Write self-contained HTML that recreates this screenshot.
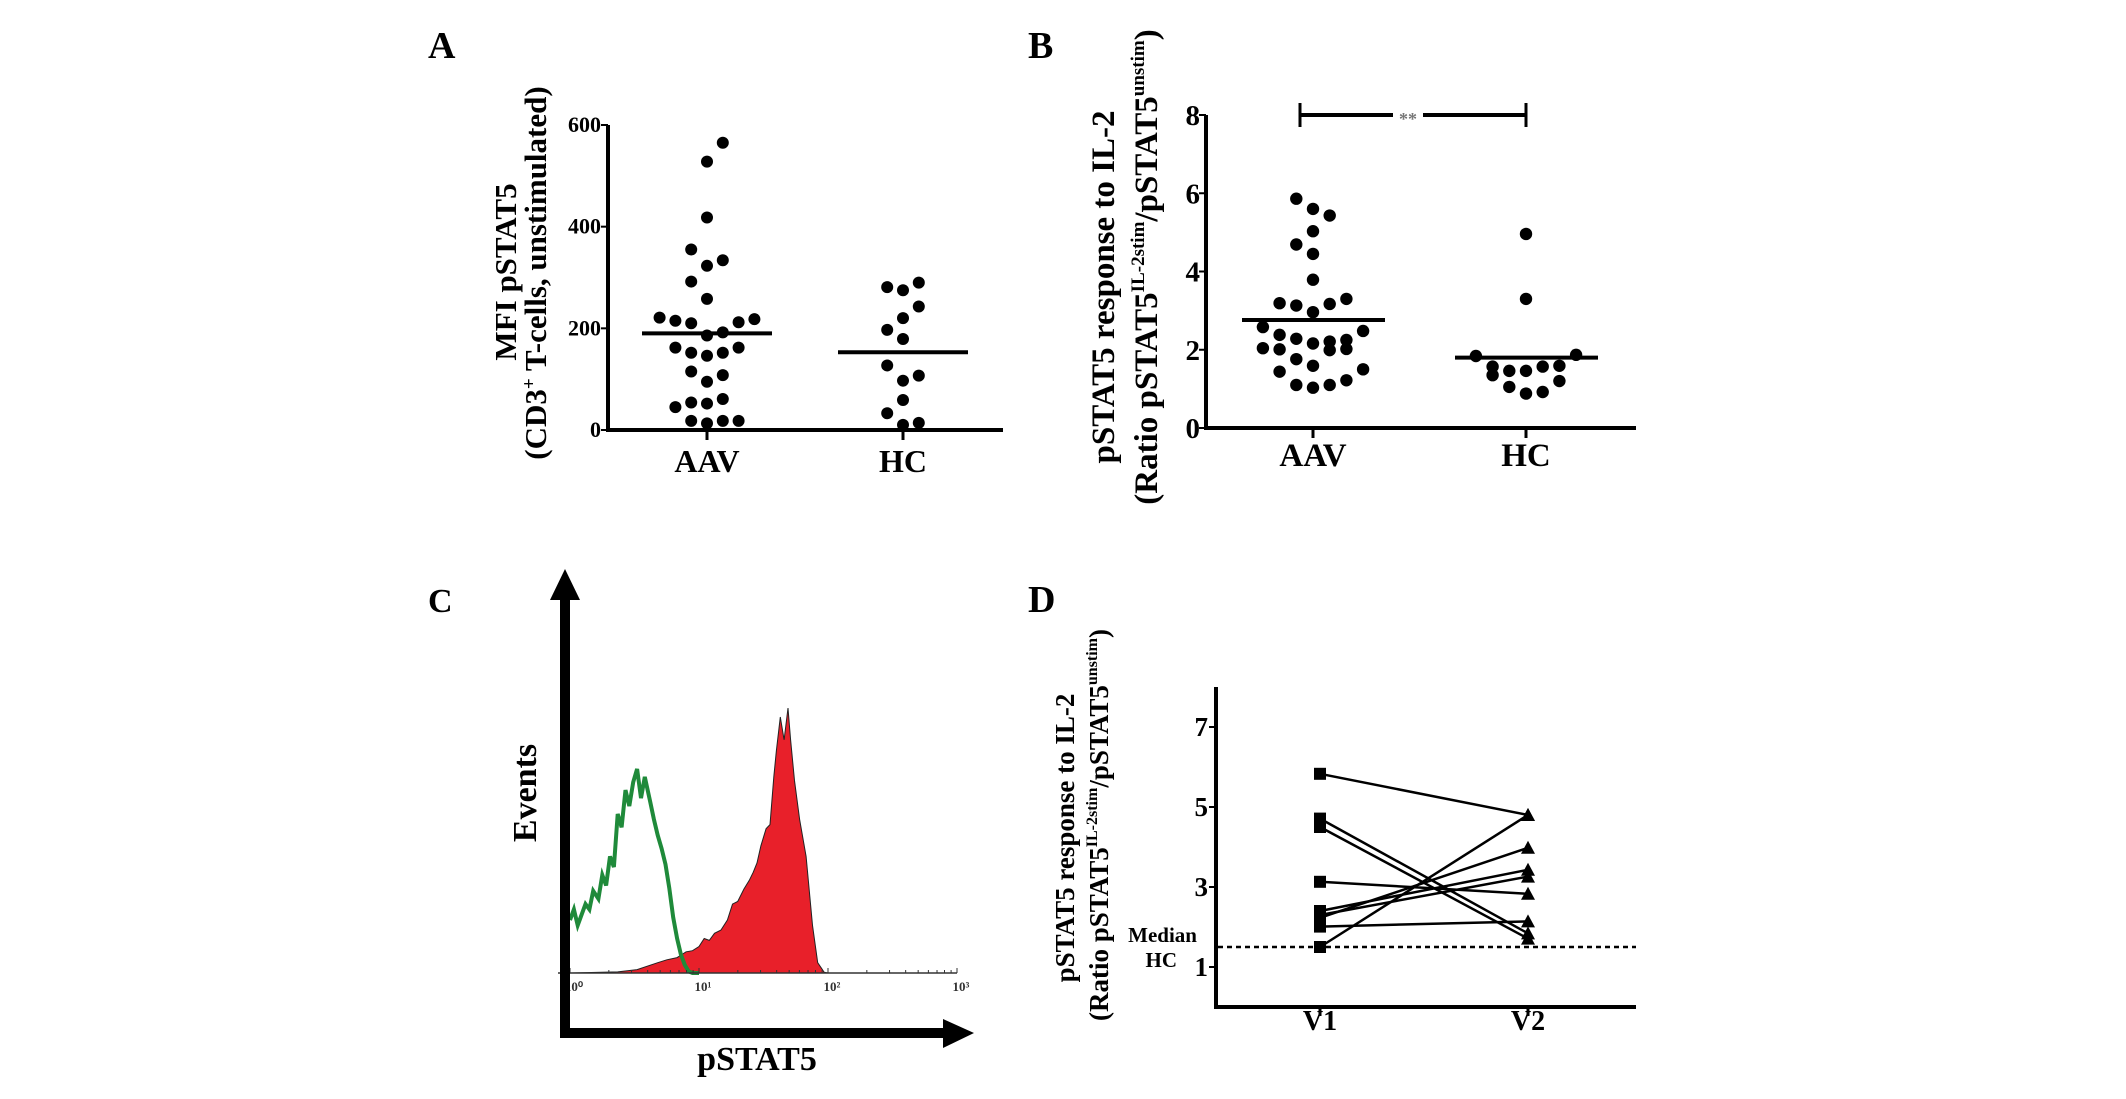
<!DOCTYPE html>
<html><head><meta charset="utf-8"><style>
html,body{margin:0;padding:0;background:#fff;}
svg{display:block;}
text{font-family:"Liberation Serif",serif;font-weight:bold;fill:#000;}
</style></head><body>
<svg id="fig" width="2126" height="1099" viewBox="0 0 2126 1099" xmlns="http://www.w3.org/2000/svg">
<text x="428" y="58" font-size="38">A</text>
<text x="1028" y="58" font-size="38">B</text>
<text x="428" y="612" font-size="34">C</text>
<text x="1028" y="612" font-size="38">D</text>
<g id="A"></g>
<g id="B"></g>
<g id="C"></g>
<g id="D"></g>
</svg>
<script>
// ---- Panel A data ----
const aCategories = ["AAV", "HC"];
const aTicks = [0, 200, 400, 600];
const aAAV = [565,528,418,355,334,323,292,258,221,215,210,212,218,192,186,162,152,146,152,162,115,108,95,45,54,52,61,18,13,18,18];
const aAAVJit = [1,0,0,-1,1,0,-1,0,-3,-2,-1,2,3,1,0,-2,-1,0,1,2,-1,1,0,-2,-1,0,1,-1,0,1,2];
const aHC = [281,275,290,243,220,197,179,127,107,97,59,33,10,14];
const aHCJit = [-1,0,1,1,0,-1,0,-1,1,0,0,-1,0,1];
const aMedians = [190, 153];
// ---- Panel B data ----
const bCategories = ["AAV", "HC"];
const bTicks = [0, 2, 4, 6, 8];
const bAAV = [5.86,5.60,5.43,5.03,4.69,4.45,3.79,3.19,3.13,3.17,3.30,2.96,2.58,2.48,2.38,2.28,2.16,2.21,2.25,2.04,2.01,1.99,2.02,1.76,1.59,1.44,1.50,1.10,1.03,1.10,1.22];
const bAAVJit = [-1,0,1,0,-1,0,0,-2,-1,1,2,0,-3,3,-2,-1,0,1,2,-3,-2,1,2,-1,0,-2,3,-1,0,1,2];
const bHC = [1.84,1.87,4.96,3.30,1.57,1.35,1.46,1.46,1.57,1.59,1.20,1.05,0.88,0.92];
const bHCJit = [-3,3,0,0,-2,-2,-1,0,1,2,2,-1,0,1];
const bMedians = [2.76, 1.80];
// ---- Panel C data (log10 intensity, % of max events) ----
const cTickLabels = ["10\u2070", "10\u00B9", "10\u00B2", "10\u00B3"];
const cRedX = [0,0.37,0.52,0.68,0.75,0.83,0.90,0.95,1.0,1.04,1.08,1.12,1.17,1.22,1.26,1.30,1.35,1.39,1.42,1.45,1.48,1.52,1.55,1.58,1.60,1.63,1.66,1.69,1.71,1.74,1.78,1.83,1.88,1.92,1.97,2.0];
const cRedY = [0,0.4,1.3,3.9,5,5.8,8,8.4,10,13,12.3,15,16.2,20,26,27,31.8,35,38,41.5,48,54.5,56,74,84,96.6,88,100,88,72.6,58,44,18,3.9,0.3,0];
const cGreenX = [0,0.03,0.06,0.09,0.12,0.15,0.18,0.22,0.25,0.28,0.31,0.34,0.37,0.40,0.43,0.46,0.49,0.52,0.55,0.58,0.62,0.65,0.68,0.71,0.74,0.77,0.80,0.83,0.86,0.89,0.92,0.95,1.0];
const cGreenY = [20,24,18,22,26,24,31,28,37,33,44,40,60,55,69,63,72,77,66,74,65,58,52,47,41,32,21,13,7,3,0.6,0,0];
// ---- Panel D data ----
const dCategories = ["V1", "V2"];
const dTicks = [1, 3, 5, 7];
const dV1 = [5.83,4.71,4.50,3.13,2.40,2.30,2.23,2.01,1.50];
const dV2 = [4.80,1.84,1.71,2.83,3.43,3.26,3.98,2.14,4.80];
const dMedianHC = 1.50;

const NS = "http://www.w3.org/2000/svg";
function mk(parent, tag, attrs, txt) {
  const e = document.createElementNS(NS, tag);
  for (const k in attrs) e.setAttribute(k, attrs[k]);
  if (txt !== undefined) e.textContent = txt;
  parent.appendChild(e);
  return e;
}
function line(p, x1, y1, x2, y2, w, extra) {
  const a = {x1, y1, x2, y2, stroke: "#000", "stroke-width": w};
  if (extra) Object.assign(a, extra);
  return mk(p, "line", a);
}

// ---------- Panel A ----------
(function () {
  const g = document.getElementById("A");
  const x0 = 608, x1 = 1003, yTop = 125, yBot = 430;
  const y = v => yBot - (v / 600) * (yBot - yTop);
  const catX = [707, 903];
  let e;
  e = line(g, x0, yTop, x0, yBot, 4);
  
  
  e = line(g, x0 - 2, yBot, x1, yBot, 4);
  
  
  aTicks.forEach(t => {
    line(g, x0 - 7, y(t), x0, y(t), 2);
    e = mk(g, "text", {x: x0 - 7, y: y(t) + 7, "font-size": 22, "text-anchor": "end"}, String(t));
    
    
  });
  aCategories.forEach((c, i) => {
    line(g, catX[i], yBot, catX[i], yBot + 10, 3);
    e = mk(g, "text", {x: catX[i], y: 472, "font-size": 32, "text-anchor": "middle"}, c);
    
    
  });
  const groups = [[aAAV, aAAVJit], [aHC, aHCJit]];
  groups.forEach((gr, i) => {
    gr[0].forEach((v, j) => {
      const d = mk(g, "circle", {cx: catX[i] + gr[1][j] * 15.8, cy: y(v), r: 6, fill: "#000"});
      
      
    });
    e = line(g, catX[i] - 65, y(aMedians[i]), catX[i] + 65, y(aMedians[i]), 4);
    
    
  });
  e = mk(g, "text", {x: 0, y: 0, "font-size": 31, "text-anchor": "middle", transform: "translate(516,272) rotate(-90)"}, "MFI pSTAT5");
  
  
  e = mk(g, "text", {x: 0, y: 0, "font-size": 31, "text-anchor": "middle", transform: "translate(546,273) rotate(-90)"});
  
  
  mk(e, "tspan", {}, "(CD3");
  mk(e, "tspan", {dy: -11, "font-size": 19}, "+");
  mk(e, "tspan", {dy: 11}, " T-cells, unstimulated)");
})();

// ---------- Panel B ----------
(function () {
  const g = document.getElementById("B");
  const x0 = 1206, x1 = 1636, yTop = 115, yBot = 428;
  const y = v => yBot - (v / 8) * (yBot - yTop);
  const catX = [1313, 1526];
  let e;
  e = line(g, x0, yTop, x0, yBot, 4);
  
  
  e = line(g, x0 - 2, yBot, x1, yBot, 4);
  
  
  bTicks.forEach(t => {
    line(g, x0 - 7, y(t), x0, y(t), 2);
    e = mk(g, "text", {x: x0 - 6, y: y(t) + 10, "font-size": 29, "text-anchor": "end"}, String(t));
    
    
  });
  bCategories.forEach((c, i) => {
    line(g, catX[i], yBot, catX[i], yBot + 10, 3);
    e = mk(g, "text", {x: catX[i], y: 466, "font-size": 33, "text-anchor": "middle"}, c);
    
    
  });
  const groups = [[bAAV, bAAVJit], [bHC, bHCJit]];
  groups.forEach((gr, i) => {
    gr[0].forEach((v, j) => {
      const d = mk(g, "circle", {cx: catX[i] + gr[1][j] * 16.7, cy: y(v), r: 6.2, fill: "#000"});
      
      
    });
    e = line(g, catX[i] - 71, y(bMedians[i]), catX[i] + 72, y(bMedians[i]), 4);
    
    
  });
  const sy = y(8);
  const sb = mk(g, "g", {});
  
  
  line(sb, 1300, sy, 1393, sy, 4);
  line(sb, 1423, sy, catX[1], sy, 4);
  line(sb, 1300, sy - 12, 1300, sy + 12, 3);
  line(sb, catX[1], sy - 12, catX[1], sy + 12, 3);
  e = mk(sb, "text", {x: 1408, y: sy + 10, "font-size": 18, "text-anchor": "middle", style: "fill:#777"}, "**");
  
  
  e = mk(g, "text", {x: 0, y: 0, "font-size": 33, "text-anchor": "middle", transform: "translate(1114,287) rotate(-90)"}, "pSTAT5 response to IL-2");
  
  
  e = mk(g, "text", {x: 0, y: 0, "font-size": 33, "text-anchor": "middle", transform: "translate(1157,267) rotate(-90)"});
  
  
  mk(e, "tspan", {}, "(Ratio pSTAT5");
  mk(e, "tspan", {dy: -13, "font-size": 19}, "IL-2stim");
  mk(e, "tspan", {dy: 13}, "/pSTAT5");
  mk(e, "tspan", {dy: -13, "font-size": 19}, "unstim");
  mk(e, "tspan", {dy: 13}, ")");
})();

// ---------- Panel C ----------
(function () {
  const g = document.getElementById("C");
  const bx0 = 570, bx1 = 957, base = 973, peakH = 265;
  const x = v => bx0 + (v / 3) * (bx1 - bx0);
  const y = v => base - (v / 100) * peakH;
  let e;
  let d = "M" + x(cRedX[0]) + "," + base;
  cRedX.forEach((v, i) => { d += " L" + x(v).toFixed(1) + "," + y(cRedY[i]).toFixed(1); });
  d += " L" + x(cRedX[cRedX.length - 1]) + "," + base + " Z";
  e = mk(g, "path", {d, fill: "#e8202a", stroke: "#222", "stroke-width": 1});
  
  
  let dg = "";
  cGreenX.forEach((v, i) => { dg += (i ? " L" : "M") + x(v).toFixed(1) + "," + y(cGreenY[i]).toFixed(1); });
  e = mk(g, "path", {d: dg, fill: "none", stroke: "#1f8a3a", "stroke-width": 4});
  
  
  e = line(g, bx0 - 12, base, bx1, base, 1.5, {stroke: "#333"});
  
  
  for (let dec = 0; dec < 3; dec++) {
    for (let k = 1; k <= 9; k++) {
      const lv = dec + Math.log10(k);
      line(g, x(lv), base, x(lv), base - (k === 1 ? 5 : 3), 1, {stroke: "#333"});
    }
  }
  line(g, bx1, base, bx1, base - 5, 1, {stroke: "#333"});
  cTickLabels.forEach((t, i) => {
    e = mk(g, "text", {x: x(i) + 4, y: 991, "font-size": 13, "text-anchor": "middle", style: "fill:#333"}, t);
    
    
  });
  e = mk(g, "g", {});
  
  
  line(e, 565, 596, 565, 1038, 10);
  mk(e, "polygon", {points: "550,600 565,569 580,600", fill: "#000"});
  e = mk(g, "g", {});
  
  
  line(e, 560, 1033, 946, 1033, 10);
  mk(e, "polygon", {points: "943,1019 974,1033 943,1048", fill: "#000"});
  e = mk(g, "text", {x: 0, y: 0, "font-size": 34, "text-anchor": "middle", transform: "translate(536,793) rotate(-90)"}, "Events");
  
  
  e = mk(g, "text", {x: 757, y: 1070, "font-size": 34, "text-anchor": "middle"}, "pSTAT5");
  
  
})();

// ---------- Panel D ----------
(function () {
  const g = document.getElementById("D");
  const x0 = 1216, x1 = 1636, yTop = 687, yBot = 1007;
  const y = v => yBot - (v / 8) * (yBot - yTop);
  const catX = [1320, 1528];
  let e;
  e = line(g, x0, yTop, x0, yBot, 4);
  
  
  e = line(g, x0 - 2, yBot, x1, yBot, 4);
  
  
  dTicks.forEach(t => {
    line(g, x0 - 7, y(t), x0, y(t), 2);
    e = mk(g, "text", {x: x0 - 8, y: y(t) + 9, "font-size": 27, "text-anchor": "end"}, String(t));
    
    
  });
  dCategories.forEach((c, i) => {
    line(g, catX[i], yBot, catX[i], yBot + 9, 3);
    e = mk(g, "text", {x: catX[i], y: 1030, "font-size": 28, "text-anchor": "middle"}, c);
    
    
  });
  e = line(g, x0 + 2, y(dMedianHC), x1, y(dMedianHC), 2.5, {"stroke-dasharray": "5,4"});
  
  
  e = mk(g, "text", {x: 1197, y: 942, "font-size": 21, "text-anchor": "end"}, "Median");
  
  
  e = mk(g, "text", {x: 1177, y: 967, "font-size": 21, "text-anchor": "end"}, "HC");
  
  
  dV1.forEach((v, i) => {
    e = line(g, catX[0], y(v), catX[1], y(dV2[i]), 2.5);
    
    
  });
  dV1.forEach(v => {
    e = mk(g, "rect", {x: catX[0] - 6, y: y(v) - 6, width: 12, height: 12, fill: "#000"});
    
    
  });
  dV2.forEach(v => {
    const cx = catX[1], cy = y(v);
    e = mk(g, "polygon", {points: (cx - 7) + "," + (cy + 6) + " " + cx + "," + (cy - 7) + " " + (cx + 7) + "," + (cy + 6), fill: "#000"});
    
    
  });
  e = mk(g, "text", {x: 0, y: 0, "font-size": 27, "text-anchor": "middle", transform: "translate(1074,838) rotate(-90)"}, "pSTAT5 response to IL-2");
  
  
  e = mk(g, "text", {x: 0, y: 0, "font-size": 27, "text-anchor": "middle", transform: "translate(1108,825) rotate(-90)"});
  
  
  mk(e, "tspan", {}, "(Ratio pSTAT5");
  mk(e, "tspan", {dy: -11, "font-size": 16}, "IL-2stim");
  mk(e, "tspan", {dy: 11}, "/pSTAT5");
  mk(e, "tspan", {dy: -11, "font-size": 16}, "unstim");
  mk(e, "tspan", {dy: 11}, ")");
})();
</script>
</body></html>
